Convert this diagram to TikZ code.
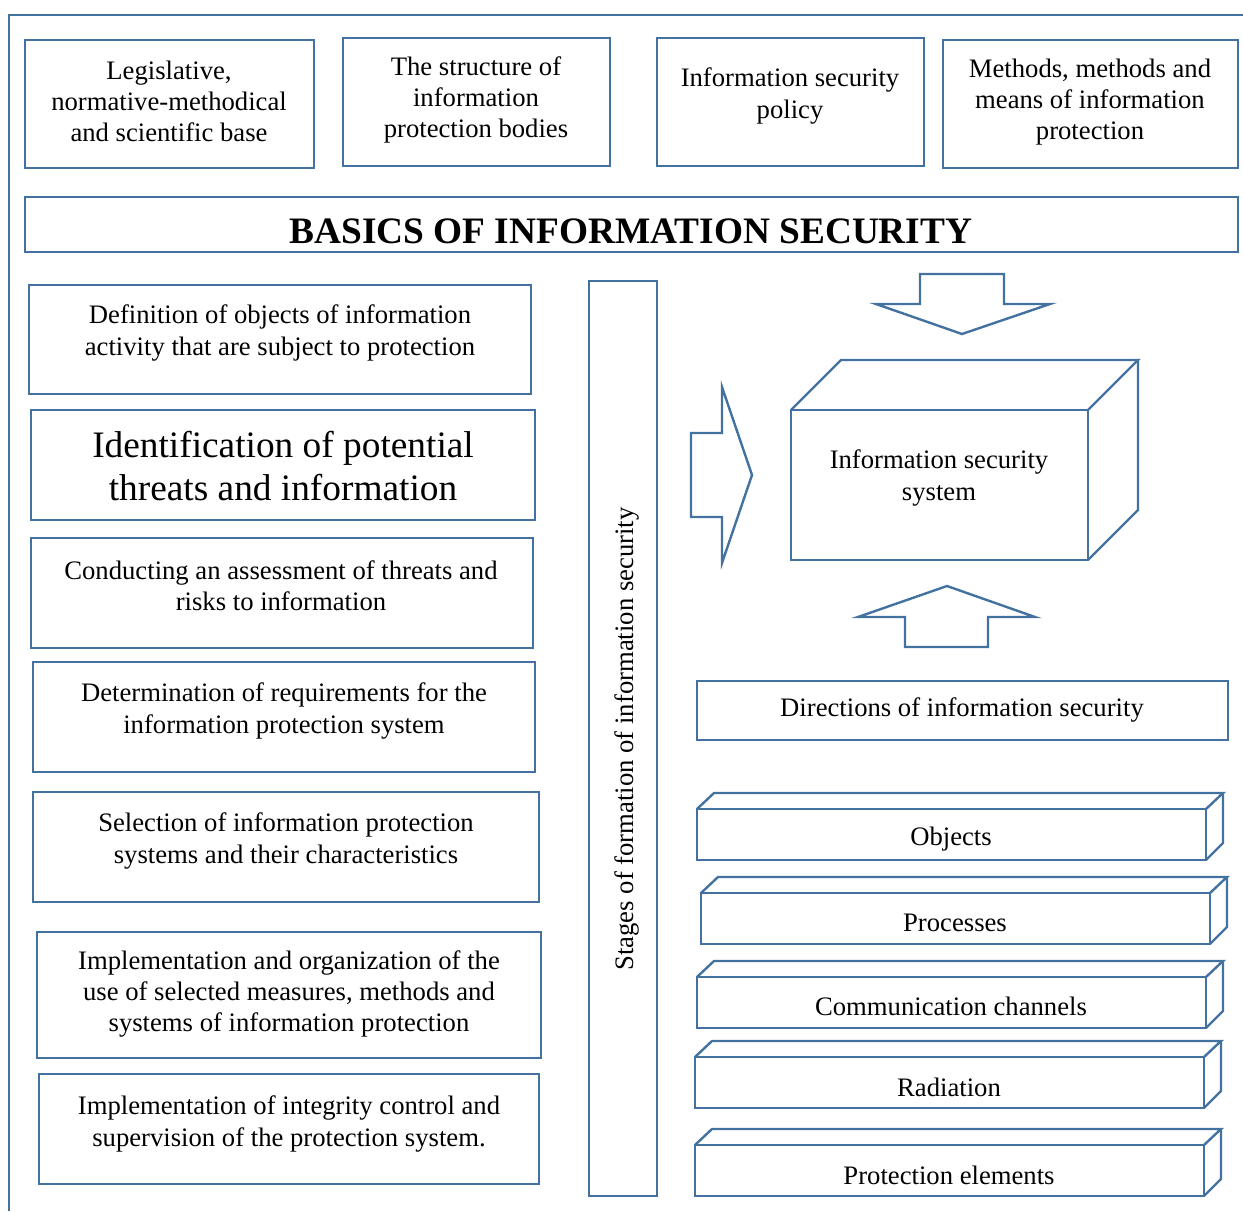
\documentclass[tikz,border=0pt]{standalone}
\usepackage{fontspec}
\setmainfont{Liberation Serif}
\definecolor{frameblue}{RGB}{68,114,160}
\begin{document}
\begin{tikzpicture}[x=0.75pt,y=-0.75pt]

	\tikzset{
	  frame/.style={draw=frameblue, line width=1.8pt, line join=miter},
	  txt/.style={
		align=center,
		inner sep=0pt,
		font=\fontsize{20}{23.3}\selectfont,
	  },
	  bigtxt/.style={txt, font=\fontsize{28}{32.3}\selectfont},
	  titletxt/.style={txt, font=\fontsize{28}{32}\selectfont\bfseries},
	}
	\useasboundingbox (0,0) rectangle (1243,1211);
	% outer frame
	\draw[frame] (9,1211)--(9,15)--(1243,15);

	% top row
	\draw[frame] (25,40) rectangle (314,168);
	\node[txt] (legal) at (169,101) {Legislative,\\normative-methodical\\and scientific base};
	\draw[frame] (343,38) rectangle (610,166);
	\node[txt] (bodies) at (476,100) {The structure of\\information\\protection bodies};
	\draw[frame] (657,38) rectangle (924,166);
	\node[txt] (policy) at (790,96) {Information security\\policy};
	\draw[frame] (943,40) rectangle (1238,168);
	\node[txt] (means) at (1090,102) {Methods, methods and\\means of information\\protection};

	% title
	\draw[frame] (25,197) rectangle (1238,252);
	\node[titletxt] (title) at (631,231) {BASICS OF INFORMATION SECURITY};

	% stages (left column)
	\draw[frame] (29,285) rectangle (531,394);
	\node[txt] (stage1) at (280,333) {Definition of objects of information\\activity that are subject to protection};
	\draw[frame] (31,410) rectangle (535,520);
	\node[bigtxt] (stage2) at (283,466) {Identification of potential\\threats and information};
	\draw[frame] (31,538) rectangle (533,648);
	\node[txt] (stage3) at (281,586) {Conducting an assessment of threats and\\risks to information};
	\draw[frame] (33,662) rectangle (535,772);
	\node[txt] (stage4) at (284,711) {Determination of requirements for the\\information protection system};
	\draw[frame] (33,792) rectangle (539,902);
	\node[txt] (stage5) at (286,841) {Selection of information protection\\systems and their characteristics};
	\draw[frame] (37,932) rectangle (541,1058);
	\node[txt] (stage6) at (289,994) {Implementation and organization of the\\use of selected measures, methods and\\systems of information protection};
	\draw[frame] (39,1074) rectangle (539,1184);
	\node[txt] (stage7) at (289,1124) {Implementation of integrity control and\\supervision of the protection system.};

	% vertical bar
	\draw[frame] (589,281) rectangle (657,1196);
	\node[txt, rotate=90] (stages) at (627,739) {Stages of formation of information security};

	% block arrows
	\draw[frame] (920,274)--(1004,274)--(1004,304)--(1050,304)--(962,334)--(876,304)--(920,304)--cycle;
	\draw[frame] (691,433)--(722,433)--(722,387)--(752,475)--(722,563)--(722,517)--(691,517)--cycle;
	\draw[frame] (905,647)--(988,647)--(988,617)--(1035,617)--(947,586)--(858,617)--(905,617)--cycle;

	% system cube
	\draw[frame] (791,410) rectangle (1088,560);
	\draw[frame] (791,410)--(841,360)--(1138,360)--(1088,410);
	\draw[frame] (1138,360)--(1138,510)--(1088,560);
	\node[txt] (system) at (939,478) {Information security\\system};

	% directions
	\draw[frame] (697,681) rectangle (1228,740);
	\node[txt] (directions) at (962,710) {Directions of information security};

	% direction bars
	\draw[frame] (697,809) rectangle (1206,860);
	\draw[frame] (697,809)--(714,793)--(1223,793)--(1206,809);
	\draw[frame] (1223,793)--(1223,843)--(1206,860);
	\node[txt] (objects) at (951,839) {Objects};

	\draw[frame] (701,893) rectangle (1210,944);
	\draw[frame] (701,893)--(718,877)--(1227,877)--(1210,893);
	\draw[frame] (1227,877)--(1227,927)--(1210,944);
	\node[txt] (processes) at (955,923) {Processes};

	\draw[frame] (697,977) rectangle (1206,1028);
	\draw[frame] (697,977)--(714,961)--(1223,961)--(1206,977);
	\draw[frame] (1223,961)--(1223,1011)--(1206,1028);
	\node[txt] (channels) at (951,1006) {Communication channels};

	\draw[frame] (695,1057) rectangle (1204,1108);
	\draw[frame] (695,1057)--(712,1041)--(1221,1041)--(1204,1057);
	\draw[frame] (1221,1041)--(1221,1091)--(1204,1108);
	\node[txt] (radiation) at (949,1087) {Radiation};

	\draw[frame] (695,1145) rectangle (1204,1196);
	\draw[frame] (695,1145)--(712,1129)--(1221,1129)--(1204,1145);
	\draw[frame] (1221,1129)--(1221,1179)--(1204,1196);
	\node[txt] (elements) at (949,1175) {Protection elements};

\end{tikzpicture}
\end{document}
